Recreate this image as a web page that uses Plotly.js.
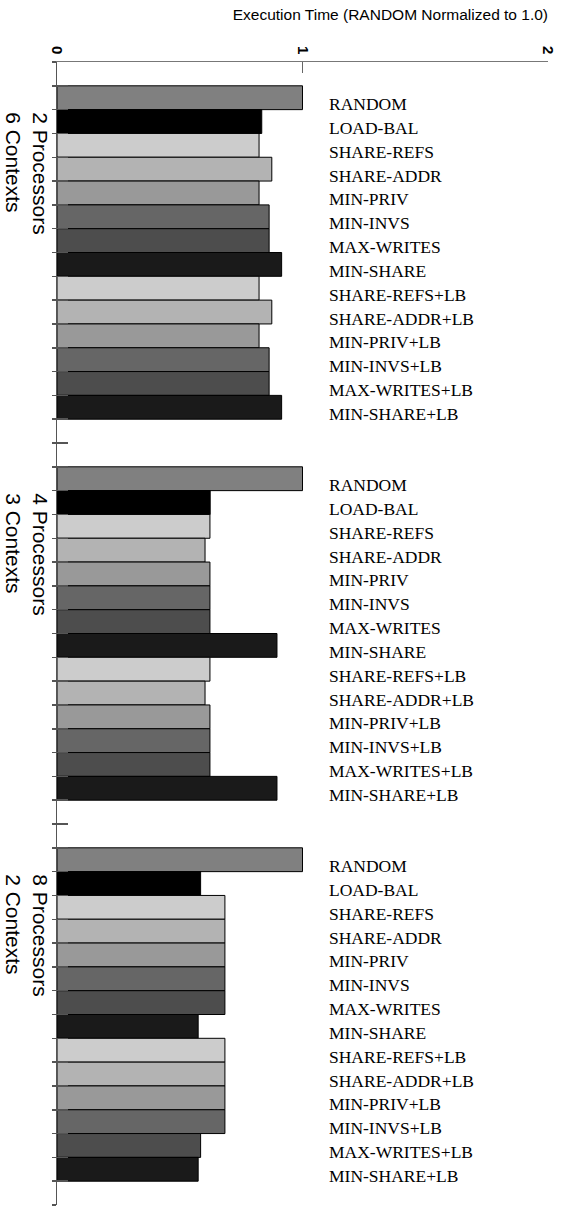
<!DOCTYPE html>
<html><head><meta charset="utf-8">
<script src="https://cdn.plot.ly/plotly-3.0.1.min.js"></script>
<style>html,body{margin:0;padding:0;background:#fff}#chart{width:561px;height:1207px}</style>
</head><body><div id="chart"></div>
<script>
// ---- data ----
const strategies = ["RANDOM","LOAD-BAL","SHARE-REFS","SHARE-ADDR","MIN-PRIV","MIN-INVS","MAX-WRITES","MIN-SHARE","SHARE-REFS+LB","SHARE-ADDR+LB","MIN-PRIV+LB","MIN-INVS+LB","MAX-WRITES+LB","MIN-SHARE+LB"];
const groupLabels = ["2 Processors<br>6 Contexts","4 Processors<br>3 Contexts","8 Processors<br>2 Contexts"];
const values2p6c = [1.0,0.834,0.823,0.875,0.823,0.864,0.864,0.915,0.823,0.875,0.823,0.864,0.864,0.915];
const values4p3c = [1.0,0.624,0.623,0.603,0.623,0.623,0.623,0.896,0.623,0.603,0.623,0.623,0.623,0.896];
const values8p2c = [1.0,0.585,0.684,0.684,0.684,0.684,0.684,0.575,0.684,0.684,0.684,0.684,0.585,0.575];
const xTickVals = [0,1,2];
const xTickText = ["0","1","2"];
const axisTitle = "Execution Time (RANDOM Normalized to 1.0)";

// ---- style ----
const barColors = ["#808080","#000000","#cccccc","#b3b3b3","#999999","#666666","#4d4d4d","#1a1a1a","#cccccc","#b3b3b3","#999999","#666666","#4d4d4d","#1a1a1a"];
const groups = [values2p6c, values4p3c, values8p2c];
const stride = strategies.length + 2;   // 14 bars + 2 empty slots
const lead = 1;                         // empty slot before first group
const totalSlots = lead + groups.length * stride - 1; // 48

const ys = [], xs = [], cols = [], anns = [];
groups.forEach((vals, g) => {
  vals.forEach((v, i) => {
    const yc = lead + g * stride + i + 0.5;
    ys.push(yc); xs.push(v); cols.push(barColors[i]);
    anns.push({text: strategies[i], xref: 'paper', x: 0.5497, xanchor: 'left',
      yref: 'y', y: yc, yanchor: 'middle', yshift: -6.5, showarrow: false,
      font: {family: 'Liberation Serif, Times New Roman, serif', size: 17.5, color: '#000'}});
  });
  anns.push({text: groupLabels[g], textangle: 90, align: 'left', xref: 'paper', x: 0, xanchor: 'right', xshift: -3,
    yref: 'y', y: lead + g * stride + 1, yanchor: 'top', showarrow: false,
    font: {family: 'Liberation Sans, Arial, sans-serif', size: 21, color: '#000'}});
});

const yTicks = [];
for (let k = 0; k <= totalSlots; k++) yTicks.push(k);

const traces = [
  {type: 'bar', orientation: 'h', x: xs, y: ys, width: 1,
   marker: {color: cols, line: {color: '#000', width: 1}}, hoverinfo: 'skip', showlegend: false},
  {type: 'scatter', x: [null], y: [null], yaxis: 'y2', showlegend: false, hoverinfo: 'skip'}
];

const layout = {
  width: 561, height: 1207,
  margin: {l: 57, r: 13.4, t: 62, b: 2},
  paper_bgcolor: '#fff', plot_bgcolor: 'rgba(0,0,0,0)',
  showlegend: false,
  title: {text: axisTitle, xref: 'paper', x: 1, xanchor: 'right', yref: 'container', y: 1 - 15/1207, yanchor: 'middle',
    font: {family: 'Liberation Sans, Arial, sans-serif', size: 15.5, color: '#000'}},
  xaxis: {side: 'top', range: [0, 2], tickvals: xTickVals, ticktext: xTickText, ticks: 'inside', ticklen: 11,
    tickwidth: 1.5, tickcolor: '#666', showline: true, linecolor: '#777', linewidth: 1.3, showgrid: false, zeroline: false,
    tickangle: 90, ticklabelstandoff: 1,
    tickfont: {family: 'Liberation Sans, Arial, sans-serif', size: 15, color: '#000', weight: 700}, fixedrange: true},
  yaxis: {range: [totalSlots, 0], tickvals: yTicks, ticks: 'inside', ticklen: 11, tickwidth: 1.5, tickcolor: '#555',
    showticklabels: false, showline: true, linecolor: '#555', linewidth: 1.3, showgrid: false, zeroline: false, fixedrange: true},
  yaxis2: {overlaying: 'y', side: 'left', range: [totalSlots, 0], tickvals: yTicks, ticks: 'outside', ticklen: 4, tickwidth: 1.5,
    tickcolor: '#555', showticklabels: false, showline: false, showgrid: false, zeroline: false, fixedrange: true},
  bargap: 0,
  annotations: anns
};

Plotly.newPlot('chart', traces, layout, {displayModeBar: false, staticPlot: true});
</script>
</body></html>
